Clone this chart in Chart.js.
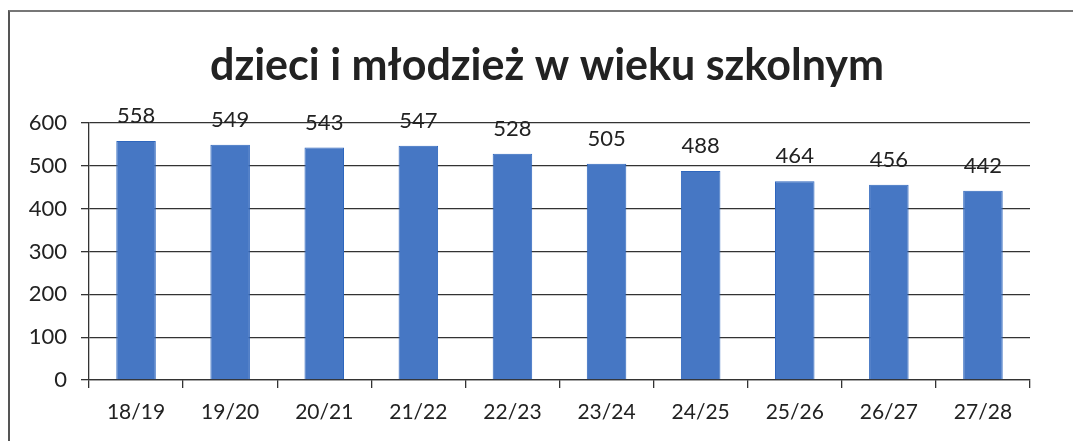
<!DOCTYPE html>
<html>
<head>
<meta charset="utf-8">
<script src="https://cdn.jsdelivr.net/npm/chart.js@4"></script>
<style>
  html, body { margin: 0; padding: 0; background: #fff; overflow: hidden; }
  #box {
    position: absolute; left: 8px; top: 10px; width: 1065px; height: 431px;
    border-left: 2px solid #555; border-top: 2px solid #777;
  }
</style>
</head>
<body>
<div id="box"><canvas id="myChart" width="1063" height="429"></canvas></div>
<script>
// dane z wykresu
var lata = ['18/19', '19/20', '20/21', '21/22', '22/23', '23/24', '24/25', '25/26', '26/27', '27/28'];
var liczba = [558, 549, 543, 547, 528, 505, 488, 464, 456, 442];
var osY = [0, 100, 200, 300, 400, 500, 600];
var tytul = 'dzieci i młodzież w wieku szkolnym';

var fontName = 'Lato, "Open Sans", sans-serif';

// etykiety z wartościami nad słupkami + tytuł
var etykiety = {
  id: 'etykiety',
  afterDatasetsDraw: function(chart) {
    var ctx = chart.ctx;
    var meta = chart.getDatasetMeta(0);
    ctx.save();
    ctx.font = '22px ' + fontName;
    ctx.fillStyle = '#222';
    ctx.textAlign = 'center';
    ctx.textBaseline = 'middle';
    meta.data.forEach(function(bar, i) {
      ctx.fillText(liczba[i], bar.x, bar.y - 25);
    });
    // tytuł (wyśrodkowany nad wykresem jak w oryginale)
    ctx.font = 'bold 43px ' + fontName;
    ctx.fillText(tytul, 537, 54);
    ctx.restore();
  }
};

var ctx = document.getElementById('myChart').getContext('2d');
var myChart = new Chart(ctx, {
  type: 'bar',
  data: {
    labels: lata,
    datasets: [{
      data: liczba,
      backgroundColor: '#4677c4',
      borderColor: '#2e66bd',
      borderWidth: 1,
      barPercentage: 0.42,
      categoryPercentage: 1
    }]
  },
  options: {
    responsive: false,
    animation: false,
    layout: { padding: { left: 0, right: 43, top: 111, bottom: 9 } },
    plugins: {
      legend: { display: false },
      tooltip: { enabled: false },
      title: { display: false }
    },
    scales: {
      x: {
        afterFit: function(s) { s.height = 52; },
        grid: { drawOnChartArea: false, drawTicks: true, tickLength: 8, color: '#333', lineWidth: 1.3 },
        border: { display: true, color: '#333', width: 1.3 },
        ticks: { color: '#222', padding: 12, font: { family: fontName, size: 21 } }
      },
      y: {
        min: 0,
        max: 600,
        afterFit: function(s) { s.width = 79; },
        afterBuildTicks: function(s) { s.ticks = osY.map(function(v) { return { value: v }; }); },
        grid: { color: '#333', lineWidth: 1.3, tickLength: 8 },
        border: { display: true, color: '#333', width: 1.3 },
        ticks: { color: '#222', padding: 14, font: { family: fontName, size: 22 } }
      }
    }
  },
  plugins: [etykiety]
});
</script>
</body>
</html>
